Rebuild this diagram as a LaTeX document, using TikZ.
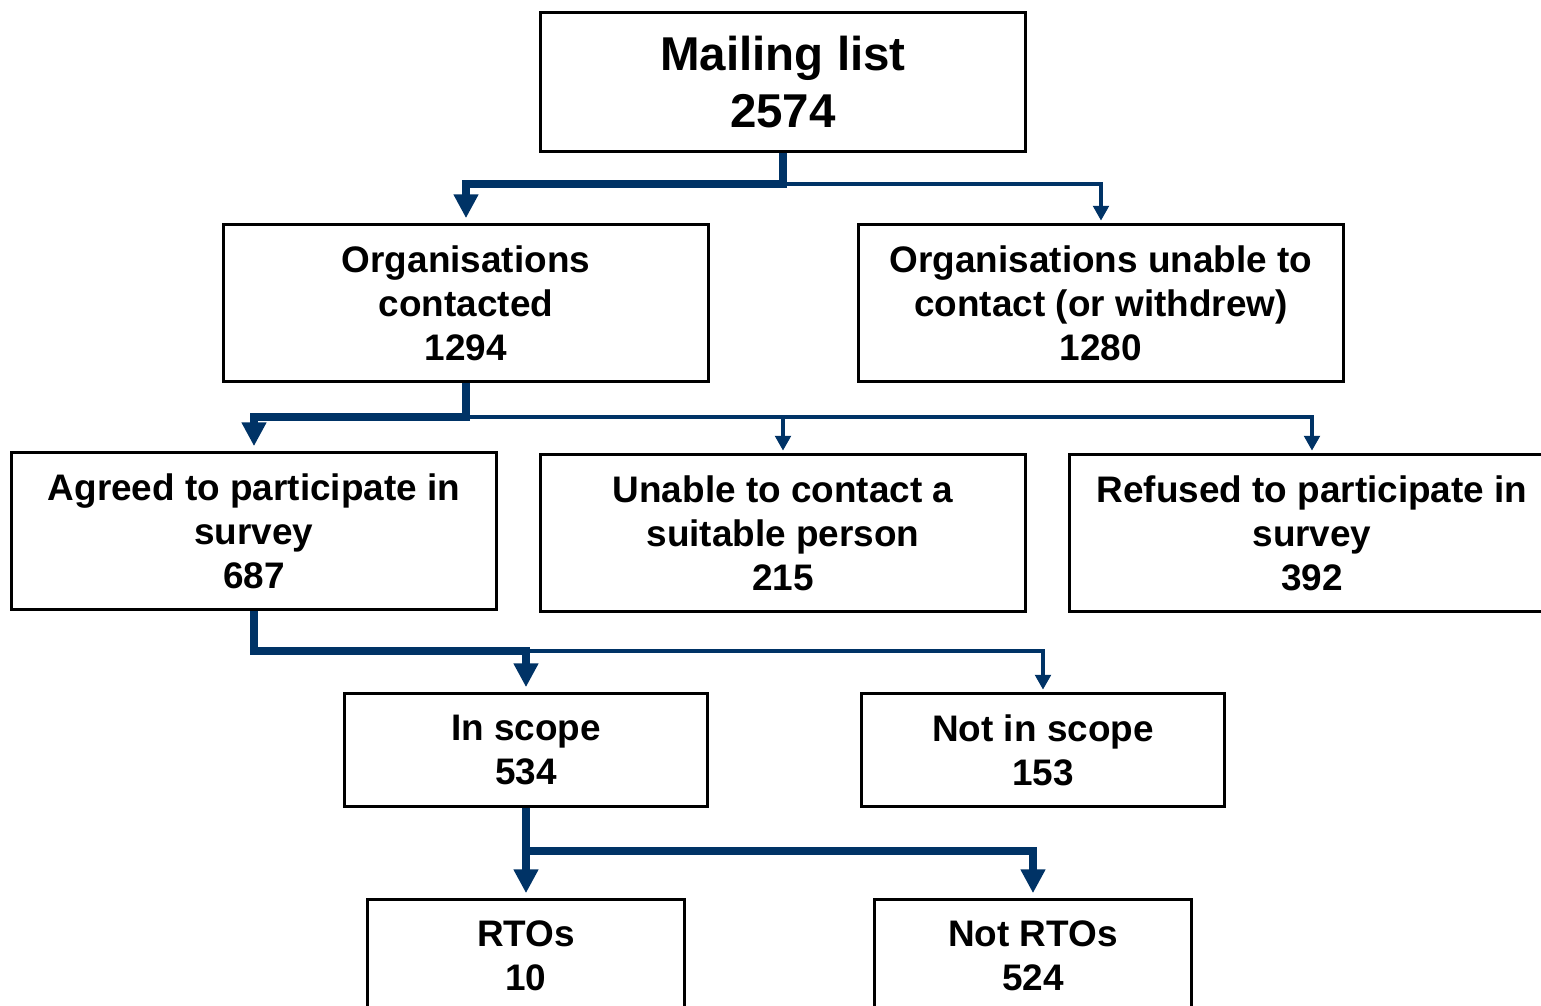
\documentclass[tikz,border=0pt]{standalone}
\usepackage{fontspec}
\setmainfont{Liberation Sans}
\usetikzlibrary{positioning,arrows.meta}
\definecolor{flowblue}{RGB}{0,51,102}

\begin{document}
\begin{tikzpicture}[x=0.01cm,y=-0.01cm,
    box/.style={draw,line width=0.85pt,minimum width=4.84cm,minimum height=1.56cm,
        align=center,inner sep=0pt,font=\bfseries\fontsize{10.5}{12.5}\selectfont},
    smallbox/.style={box,minimum height=1.12cm},
    trunk/.style={draw=flowblue,line width=2pt,-{Triangle[width=6.7pt,length=6.8pt]},shorten >=1.5pt},
    twig/.style={draw=flowblue,line width=1pt,-{Triangle[width=4.4pt,length=4.2pt]},shorten >=0.8pt}]
    \useasboundingbox (0,0) rectangle (1541,1006);
    % boxes
    \node[box,minimum height=1.38cm,font=\bfseries\fontsize{13.5}{16.2}\selectfont] (mail) at (783,82) {Mailing list\\2574};
    \node[box] (contacted) at (466,303) {Organisations\\contacted\\1294};
    \node[box] (unable)    at (1101,303) {Organisations unable to\\contact (or withdrew)\\1280};
    \node[box] (agreed)    at (254,531) {Agreed to participate in\\survey\\687};
    \node[box] (nosuit)    at (783,533) {Unable to contact a\\suitable person\\215};
    \node[box] (refused)   at (1312,533) {Refused to participate in\\survey\\392};
    \node[smallbox,minimum width=3.63cm] (inscope)  at (526,750) {In scope\\534};
    \node[smallbox,minimum width=3.63cm] (notscope) at (1043,750) {Not in scope\\153};
    \node[smallbox,minimum width=3.17cm] (rto)      at (526,956) {RTOs\\10};
    \node[smallbox,minimum width=3.17cm] (notrto)   at (1033,956) {Not RTOs\\524};
    % junctions
    \coordinate (j1) at (783,184);
    \coordinate (j2) at (466,417);
    \coordinate (j3) at (254,651);
    \coordinate (j4) at (526,851);
    % connectors
    \draw[twig]  (j1) -| (unable);
    \draw[trunk] (mail) -- (j1) -| (contacted);
    \draw[twig]  (j2) -| (nosuit);
    \draw[twig]  (j2) -| (refused);
    \draw[trunk] (contacted) -- (j2) -| (agreed);
    \draw[twig]  (inscope.north |- j3) -| (notscope);
    \draw[trunk] (agreed) -- (j3) -| (inscope);
    \draw[trunk] (inscope) -- (rto);
    \draw[trunk] (j4) -| (notrto);
\end{tikzpicture}
\end{document}
